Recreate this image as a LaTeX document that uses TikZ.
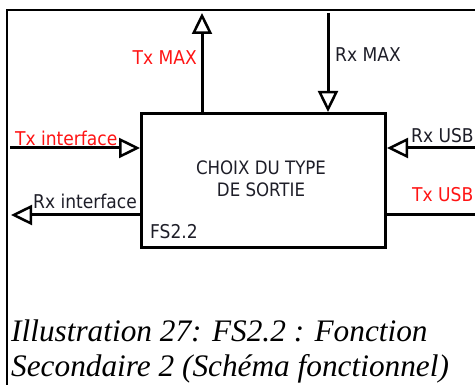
\documentclass[tikz,border=0pt]{standalone}
\usepackage{fontspec}
\setmainfont{Liberation Serif}
\newfontfamily\labfont{DejaVu Sans Condensed}
\usetikzlibrary{arrows.meta}
\definecolor{txred}{RGB}{255,20,20}
\definecolor{rxdark}{RGB}{30,30,40}
\tikzset{
  lab/.style={font=\labfont\fontsize{19}{20}\selectfont, inner sep=0pt},
  sig/.style={line width=3pt, -{Triangle[open, length=21pt, width=20pt, line width=2.5pt]}},
  fbox/.style={draw, line width=3pt, minimum width=244pt, minimum height=134pt, inner sep=0pt},
}
\begin{document}
\begin{tikzpicture}[x=1pt,y=-1pt]
\useasboundingbox (0,0) rectangle (475,385);
% frame
\draw[line width=2pt] (7,385) -- (7,10) -- (475,10);
% main box
\node[fbox] (box) at (263.5,180.5) {};
\node[font=\labfont\fontsize{18.5}{22.5}\selectfont, align=center, text=rxdark] (title) at (261,179) {CHOIX DU TYPE\\DE SORTIE};
\node[lab, anchor=west, text=rxdark] (fs) at (150,232) {FS2.2};
% coordinates
\coordinate (txmaxtop) at (202,13);
\coordinate (rxmaxtop) at (328,13);
\coordinate (txin) at (10,148);
\coordinate (rxin) at (11,215);
\coordinate (rxusb) at (475,148);
\coordinate (txusb) at (475,215);
% arrows
\draw[sig] (box.north -| txmaxtop) -- (txmaxtop);
\draw[sig] (rxmaxtop) -- (box.north -| rxmaxtop);
\draw[sig] (txin) -- (box.west |- txin);
\draw[sig] (box.west |- rxin) -- (rxin);
\draw[sig] (rxusb) -- (box.east |- rxusb);
\draw[line width=3pt] (box.east |- txusb) -- (txusb);
% labels
\node[lab, anchor=east, text=txred] (ltxmax) at (197,58) {Tx MAX};
\node[lab, anchor=west, text=rxdark] (lrxmax) at (335,55) {Rx MAX};
\node[lab, anchor=west, text=txred] (ltxin) at (15,138) {Tx interface};
\node[lab, anchor=west, text=rxdark] (lrxin) at (33,201) {Rx interface};
\node[lab, anchor=west, text=rxdark] (lrxusb) at (411,136) {Rx USB};
\node[lab, anchor=west, text=txred] (ltxusb) at (412,195) {Tx USB};
% caption
\node[anchor=base west, inner sep=0pt, font=\itshape\fontsize{31.3}{35}\selectfont] (cap1) at (11,342) {Illustration 27: FS2.2 : Fonction};
\node[anchor=base west, inner sep=0pt, font=\itshape\fontsize{31.3}{35}\selectfont] (cap2) at (11,377) {Secondaire 2 (Schéma fonctionnel)};
\end{tikzpicture}
\end{document}
